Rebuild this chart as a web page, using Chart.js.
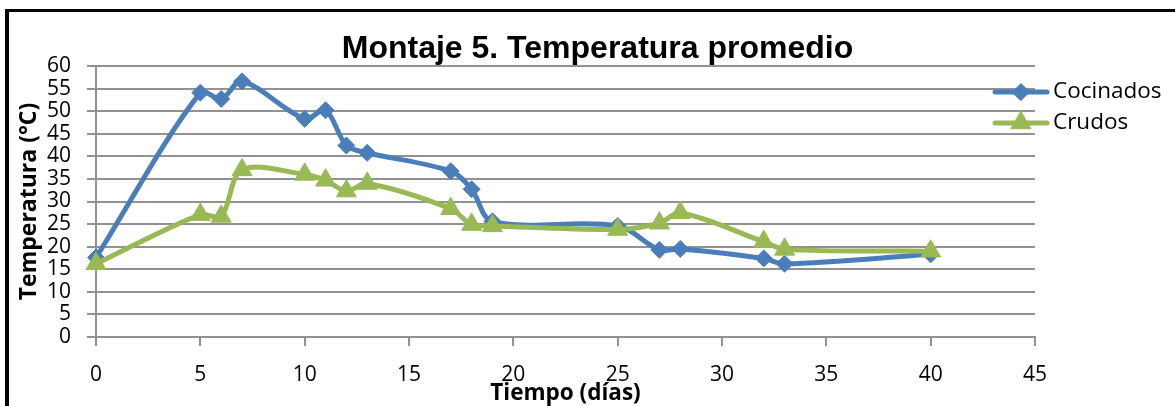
<!DOCTYPE html>
<html>
<head>
<meta charset="utf-8">
<script src="https://cdn.jsdelivr.net/npm/chart.js@4.4.0/dist/chart.umd.min.js"></script>
<style>
  html, body { margin: 0; padding: 0; background: #fff; }
  #wrap { position: relative; width: 1175px; height: 406px; overflow: hidden; }
  #frame {
    position: absolute; left: 5px; top: 9px; width: 1300px; height: 500px;
    border-left: 4px solid #000; border-top: 3px solid #000; pointer-events: none;
  }
</style>
</head>
<body>
<div id="wrap">
  <canvas id="chart" width="1175" height="406"></canvas>
  <div id="frame"></div>
</div>
<script>
// Days of measurement (x) and average temperature per group (y, °C)
const days = [0, 5, 6, 7, 10, 11, 12, 13, 17, 18, 19, 25, 27, 28, 32, 33, 40];
const cocinados = [17.6, 54.1, 52.7, 56.6, 48.3, 50.2, 42.4, 40.8, 36.7, 32.7, 25.6, 24.6, 19.3, 19.5, 17.4, 16.2, 18.3];
const crudos = [16.2, 27.1, 26.7, 37.0, 36.0, 34.7, 32.3, 34.0, 28.4, 24.9, 24.6, 23.8, 25.2, 27.5, 21.1, 19.4, 19.0];

const xRange = [0, 45];
const xStep = 5;
const yRange = [0, 60];
const yStep = 5;

const titleText = "Montaje 5. Temperatura promedio";
const xTitle = "Tiempo (días)";
const yTitle = "Temperatura (°C)";

const gridColor = "#929292";
const tickFont = { family: "'Open Sans'", size: 21 };

function toPoints(ys) {
  return days.map((d, i) => ({ x: d, y: ys[i] }));
}

// Legend sits on the right, partly over the grid, like the spreadsheet chart
const sideLegend = {
  id: "sideLegend",
  afterDraw(chart) {
    const ctx = chart.ctx;
    chart.data.datasets.forEach((ds, i) => {
      const y = 92 + i * 31;
      ctx.save();
      ctx.strokeStyle = ds.borderColor;
      ctx.lineWidth = 5;
      ctx.lineCap = "round";
      ctx.beginPath();
      ctx.moveTo(995, y);
      ctx.lineTo(1047, y);
      ctx.stroke();
      ctx.fillStyle = ds.backgroundColor;
      ctx.strokeStyle = ds.borderColor;
      ctx.lineWidth = 1;
      Chart.helpers.drawPoint(ctx, { pointStyle: ds.pointStyle, radius: ds.pointRadius, rotation: 0, borderWidth: 1 }, 1021, y);
      ctx.fillStyle = "#000";
      ctx.font = "22.5px 'Open Sans'";
      ctx.textBaseline = "middle";
      ctx.textAlign = "left";
      ctx.fillText(ds.label, 1053, y);
      ctx.restore();
    });
  },
};

new Chart(document.getElementById("chart"), {
  type: "line",
  data: {
    datasets: [
      {
        label: "Cocinados",
        data: toPoints(cocinados),
        borderColor: "#4A7EBB",
        backgroundColor: "#4A7EBB",
        borderWidth: 5,
        pointStyle: "rectRot",
        pointRadius: 8.5,
        pointBorderWidth: 1,
        tension: 0.33,
        clip: false,
        order: 1,
      },
      {
        label: "Crudos",
        data: toPoints(crudos),
        borderColor: "#98B954",
        backgroundColor: "#98B954",
        borderWidth: 5,
        pointStyle: "triangle",
        pointRadius: 11.5,
        pointBorderWidth: 1,
        tension: 0.33,
        clip: false,
        order: 0,
      },
    ],
  },
  options: {
    responsive: false,
    animation: false,
    layout: { padding: { left: 20, right: 0, top: 0, bottom: 0 } },
    plugins: {
      legend: { display: false },
      tooltip: { enabled: false },
      title: {
        display: true,
        text: titleText,
        color: "#000",
        font: { family: "'Liberation Sans'", size: 32, weight: "bold", lineHeight: 1 },
        padding: { top: 33, bottom: 1 },
      },
    },
    scales: {
      x: {
        type: "linear",
        min: xRange[0],
        max: xRange[1],
        ticks: { stepSize: xStep, color: "#000", font: tickFont, padding: 16, maxRotation: 0, autoSkip: false },
        grid: { drawOnChartArea: false, drawTicks: true, tickLength: 9, color: gridColor, lineWidth: 2 },
        border: { display: true, color: gridColor, width: 2 },
        title: {
          display: true,
          text: xTitle,
          color: "#000",
          font: { family: "'Open Sans'", size: 22.5, weight: "bold", lineHeight: 1 },
          padding: { top: 0, bottom: 1.5 },
        },
        afterFit(scale) { scale.height = 69; },
      },
      y: {
        min: yRange[0],
        max: yRange[1],
        ticks: { stepSize: yStep, color: "#000", font: tickFont, padding: 16, autoSkip: false },
        grid: { drawTicks: true, tickLength: 9, color: gridColor, lineWidth: 2 },
        border: { display: true, color: gridColor, width: 2 },
        title: {
          display: true,
          text: yTitle,
          color: "#000",
          font: { family: "'Open Sans'", size: 23, weight: "bold", lineHeight: 1 },
          padding: { top: -2.5, bottom: 0 },
        },
        afterFit(scale) { scale.width = 76; },
      },
      // empty right-hand axis reserves the legend's room without shifting the title
      yRight: {
        position: "right",
        display: true,
        ticks: { display: false },
        grid: { display: false },
        border: { display: false },
        afterFit(scale) { scale.width = 140; },
      },
    },
  },
  plugins: [sideLegend],
});
</script>
</body>
</html>
